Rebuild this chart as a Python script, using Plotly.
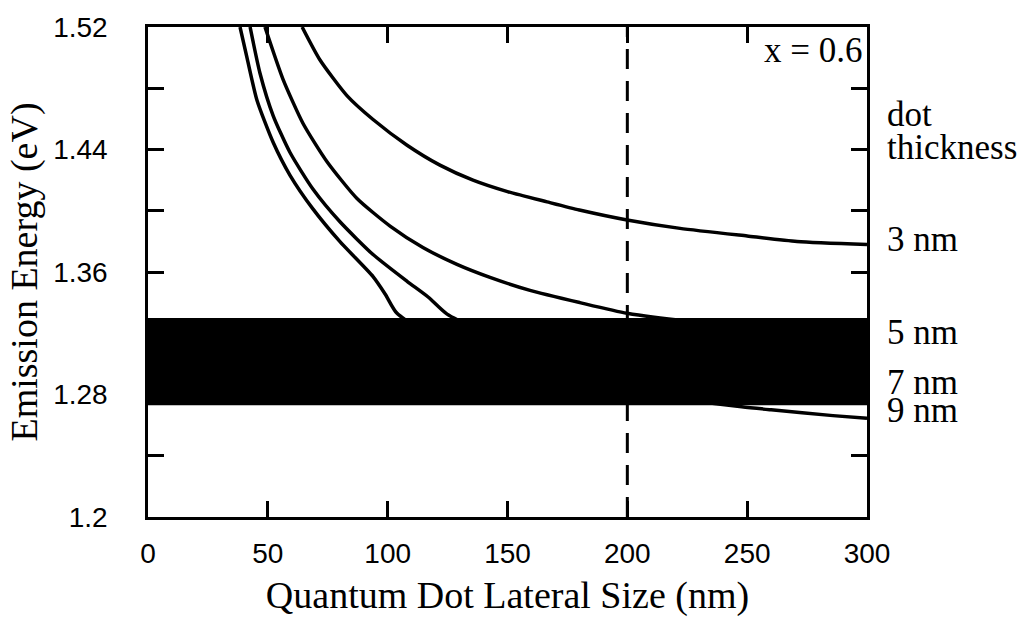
import plotly.graph_objects as go

# ---- data ----
size_3nm = [64.3, 71.7, 83.0, 93.9, 108.1, 121.8, 135.6, 150.0, 166.5, 180.0, 199.9, 222.0, 250.0, 270.8, 300.0]
energy_3nm = [1.520, 1.4986, 1.4752, 1.4596, 1.4428, 1.4298, 1.4200, 1.4125, 1.4058, 1.4005, 1.3940, 1.3885, 1.3835, 1.3800, 1.3780]

size_5nm = [48.8, 56.3, 64.7, 74.7, 87.2, 101.0, 114.7, 128.9, 142.7, 159.4, 180.2, 199.9, 225.0, 250.0, 275.0, 300.0]
energy_5nm = [1.520, 1.4860, 1.4570, 1.4320, 1.4080, 1.3900, 1.3760, 1.3650, 1.3565, 1.3480, 1.3400, 1.3330, 1.3280, 1.3250, 1.3220, 1.3200]

size_7nm = [42.6, 46.7, 52.2, 59.2, 68.8, 80.1, 93.9, 108.1, 117.0, 124.8, 150.0, 200.0, 250.0, 300.0]
energy_7nm = [1.520, 1.4900, 1.4622, 1.4382, 1.4142, 1.3928, 1.3714, 1.3539, 1.3435, 1.3325, 1.3150, 1.3000, 1.2900, 1.2840]

size_9nm = [38.4, 41.3, 45.5, 52.2, 59.2, 68.8, 80.1, 93.9, 99.0, 103.9, 125.0, 150.0, 200.0, 247.7, 260.0, 285.8, 300.0]
energy_9nm = [1.520, 1.5000, 1.4720, 1.4447, 1.4233, 1.4012, 1.3798, 1.3570, 1.3455, 1.3330, 1.3120, 1.2980, 1.2820, 1.2720, 1.2700, 1.2662, 1.2645]

band_size = [0, 300]
band_low = [1.273, 1.273]
band_high = [1.330, 1.330]

marker_size = 200  # dashed reference line (nm)

x_ticks = [0, 50, 100, 150, 200, 250, 300]
y_ticks = [1.2, 1.24, 1.28, 1.32, 1.36, 1.40, 1.44, 1.48, 1.52]
y_ticktext = ["1.2", "", "1.28", "", "1.36", "", "1.44", "", "1.52"]

label_texts = ["dot", "thickness", "3 nm", "5 nm", "7 nm", "9 nm"]
label_energy = [1.4629, 1.4410, 1.3815, 1.3205, 1.2880, 1.2695]

SERIF = "Liberation Serif, Times New Roman, serif"
SANS = "Liberation Sans, Arial, Helvetica, sans-serif"

fig = go.Figure()
line_style = dict(color="black", width=3.5, shape="spline", smoothing=0.6)
for xs, ys, nm in [(size_3nm, energy_3nm, "3 nm"), (size_5nm, energy_5nm, "5 nm"),
                   (size_7nm, energy_7nm, "7 nm"), (size_9nm, energy_9nm, "9 nm")]:
    fig.add_trace(go.Scatter(x=xs, y=ys, mode="lines", line=line_style, name=nm,
                             showlegend=False, hoverinfo="x+y"))

# black band
fig.add_trace(go.Scatter(x=band_size, y=band_low, mode="lines", line=dict(width=0, color="black"),
                         showlegend=False, hoverinfo="skip"))
fig.add_trace(go.Scatter(x=band_size, y=band_high, mode="lines", line=dict(width=0, color="black"),
                         fill="tonexty", fillcolor="black", showlegend=False, hoverinfo="skip"))

# dashed vertical line
fig.add_trace(go.Scatter(x=[marker_size, marker_size], y=[1.2, 1.52], mode="lines",
                         line=dict(color="black", width=3, dash="20px,12px"),
                         showlegend=False, hoverinfo="skip"))

axis_common = dict(showline=True, linecolor="black", linewidth=2.5, mirror="allticks",
                   ticks="inside", ticklen=16, tickwidth=2.5, tickcolor="black",
                   showgrid=False, zeroline=False,
                   tickfont=dict(family=SANS, size=28, color="black"))

fig.update_xaxes(range=[0, 300], tickvals=x_ticks, ticklabelstandoff=10,
                 title=dict(text="Quantum Dot Lateral Size (nm)",
                            font=dict(family=SERIF, size=38, color="black"), standoff=14),
                 **axis_common)
fig.update_yaxes(range=[1.2, 1.52], tickvals=y_ticks, ticktext=y_ticktext, ticklabelstandoff=32,
                 title=dict(text="Emission Energy (eV)",
                            font=dict(family=SERIF, size=38, color="black"), standoff=4),
                 **axis_common)

# right-side labels
for txt, e in zip(label_texts, label_energy):
    fig.add_annotation(x=1, xref="paper", y=e, yref="y", text=txt, showarrow=False,
                       xanchor="left", yanchor="middle", xshift=18,
                       font=dict(family=SERIF, size=35, color="black"))

fig.add_annotation(x=1, xref="paper", y=1, yref="paper", text="x = 0.6", showarrow=False,
                   xanchor="right", yanchor="top", xshift=-2, yshift=-2,
                   font=dict(family=SERIF, size=35, color="black"))

fig.update_layout(width=1030, height=629, margin=dict(l=148, r=163, t=24, b=112),
                  paper_bgcolor="white", plot_bgcolor="white")

fig.write_html("out.html")
